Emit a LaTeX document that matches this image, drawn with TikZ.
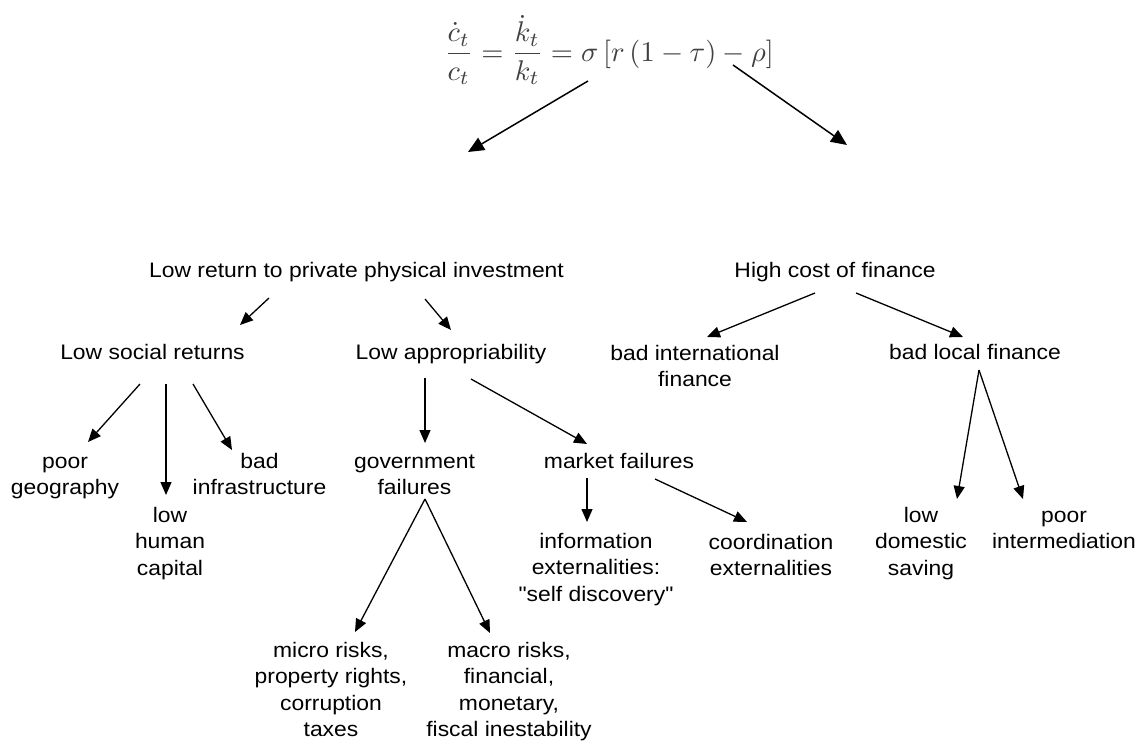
\documentclass[tikz,border=0pt]{standalone}
\usepackage{fontspec}
\setmainfont{Liberation Sans}[FakeStretch=1.09,Ligatures=TeXOff]
\usetikzlibrary{arrows.meta}
\begin{document}
\begin{tikzpicture}[x=1pt,y=-1pt,
  lbl/.style={font=\fontsize{21}{26.5}\selectfont, align=center, inner sep=0pt, anchor=base},
  arr/.style={line width=1.3pt, -{Triangle[length=13pt,width=11pt]}},
  bigarr/.style={line width=1.5pt, -{Triangle[length=16pt,width=14pt]}}]
\useasboundingbox (0,0) rectangle (1140,744);
% multi-line nodes: the base anchor is the baseline of the last line
\node[scale=2.85, text=black!75, inner sep=0pt] (eq) at (609,50)
  {$\displaystyle \frac{\dot c_t}{c_t}=\frac{\dot k_t}{k_t}=\sigma\left[r\left(1-\tau\right)-\rho\right]$};
\node[lbl] (lowret)   at (356.5,277) {Low return to private physical investment};
\node[lbl] (highcost) at (835,277) {High cost of finance};
\node[lbl] (lsr)      at (152.5,359) {Low social returns};
\node[lbl] (lapp)     at (451,359) {Low appropriability};
\node[lbl] (badint)   at (695,386.5) {bad international\\finance};
\node[lbl] (badloc)   at (975,359) {bad local finance};
\node[lbl] (poorgeo)  at (65,494.5) {poor\\geography};
\node[lbl] (lowhum)   at (170,575) {low\\human\\capital};
\node[lbl] (badinf)   at (259.5,494.5) {bad\\infrastructure};
\node[lbl] (govf)     at (414.5,494.5) {government\\failures};
\node[lbl] (mktf)     at (619,468) {market failures};
\node[lbl] (micro)    at (331,736.5) {micro risks,\\property rights,\\corruption\\taxes};
\node[lbl] (macro)    at (509,736.5) {macro risks,\\financial,\\monetary,\\fiscal inestability};
\node[lbl] (info)     at (596,601) {information\\externalities:\\"self discovery"};
\node[lbl] (coord)    at (771,575.5) {coordination\\externalities};
\node[lbl] (lowdom)   at (921,575) {low\\domestic\\saving};
\node[lbl] (poorint)  at (1064,548.5) {poor\\intermediation};

\draw[bigarr] ([shift={(-21,31)}]eq.center) -- ([shift={(111.5,-125)}]lowret.base);
\draw[bigarr] ([shift={(124,15)}]eq.center) -- ([shift={(12,-132)}]highcost.base);
\draw[arr] ([shift={(-87.5,21)}]lowret.base) -- ([shift={(87.5,-34)}]lsr.base);
\draw[arr] ([shift={(68.5,22)}]lowret.base) -- ([shift={(0,-29)}]lapp.base);
\draw[arr] ([shift={(-20,16)}]highcost.base) -- ([shift={(12,-49.5)}]badint.base);
\draw[arr] ([shift={(21,16)}]highcost.base) -- ([shift={(-12,-22)}]badloc.base);
\draw[arr] ([shift={(-12.5,25)}]lsr.base) -- ([shift={(23,-52.5)}]poorgeo.base);
\draw[arr] ([shift={(13.5,25)}]lsr.base) -- ([shift={(-4,-80)}]lowhum.base);
\draw[arr] ([shift={(40.5,25)}]lsr.base) -- ([shift={(-27.5,-44.5)}]badinf.base);
\draw[arr] ([shift={(-26,19)}]lapp.base) -- ([shift={(10.5,-51.5)}]govf.base);
\draw[arr] ([shift={(20,20)}]lapp.base) -- ([shift={(-32,-24)}]mktf.base);
\draw[arr] ([shift={(10.5,4.5)}]govf.base) -- ([shift={(24,-104.5)}]micro.base);
\draw[arr] ([shift={(10.5,4.5)}]govf.base) -- ([shift={(-19,-103.5)}]macro.base);
\draw[arr] ([shift={(-32,10)}]mktf.base) -- ([shift={(-9,-79)}]info.base);
\draw[arr] ([shift={(36,11)}]mktf.base) -- ([shift={(-24,-53.5)}]coord.base);
\draw[arr] ([shift={(4,11)}]badloc.base) -- ([shift={(36,-76)}]lowdom.base);
\draw[arr] ([shift={(4,11)}]badloc.base) -- ([shift={(-41,-49.5)}]poorint.base);
\end{tikzpicture}
\end{document}
